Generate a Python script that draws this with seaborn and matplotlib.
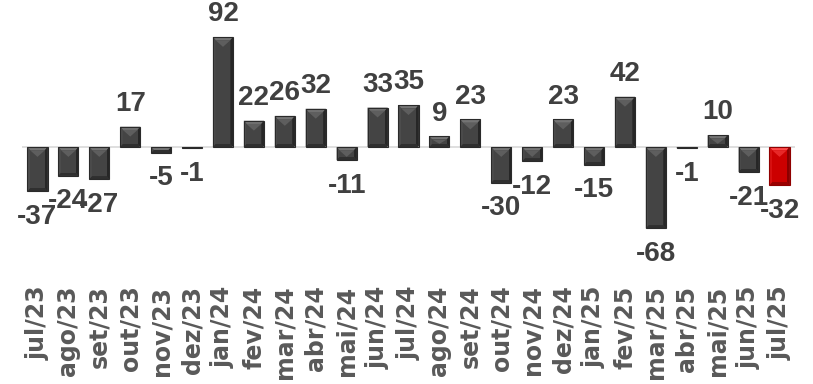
import matplotlib
matplotlib.use("Agg")
import matplotlib.pyplot as plt
from matplotlib.patches import Polygon
import seaborn as sns
import pandas as pd

months = ["jul/23", "ago/23", "set/23", "out/23", "nov/23", "dez/23",
          "jan/24", "fev/24", "mar/24", "abr/24", "mai/24", "jun/24",
          "jul/24", "ago/24", "set/24", "out/24", "nov/24", "dez/24",
          "jan/25", "fev/25", "mar/25", "abr/25", "mai/25", "jun/25", "jul/25"]
values = [-37, -24, -27, 17, -5, -1, 92, 22, 26, 32, -11, 33, 35, 9, 23,
          -30, -12, 23, -15, 42, -68, -1, 10, -21, -32]

df = pd.DataFrame({"mes": months, "valor": values})
df["destaque"] = ["atual" if m == months[-1] else "base" for m in months]

sns.set_style("white")
plt.rcParams["font.family"] = ["Liberation Sans", "DejaVu Sans"]

W, H = 813, 384
fig = plt.figure(figsize=(W / 100, H / 100), dpi=100)
ax_left, ax_right, ax_top, ax_bot = 22, 795, 0, 280
ax = fig.add_axes([ax_left / W, 1 - ax_bot / H, (ax_right - ax_left) / W, (ax_bot - ax_top) / H])

sns.barplot(data=df, x="mes", y="valor", hue="destaque",
            palette={"base": "#404040", "atual": "#c00000"},
            width=0.65, dodge=False, legend=False, ax=ax, linewidth=0)

zero_px = 147
scale = 1.196  # px per unit
ax.set_ylim(-(ax_bot - zero_px) / scale, (zero_px - ax_top) / scale)
ax.set_xlim(-0.5, len(months) - 0.5)
ax.axhline(0, color="#d9d9d9", lw=1.2, zorder=1)

# bevel facets
shades = {
    "base": dict(top="#747474", left="#4c4c4c", right="#262626", bottom="#2f2f2f", face="#444444", edge="#2a2a2a"),
    "atual": dict(top="#ff4a4a", left="#d81010", right="#8a0000", bottom="#9a0000", face="#cc0000", edge="#900000"),
}
by_unit = 3.2 / scale
for p, kind in zip(ax.patches, df["destaque"]):
    x0, w = p.get_x(), p.get_width()
    y0 = min(p.get_y(), p.get_y() + p.get_height())
    y1 = max(p.get_y(), p.get_y() + p.get_height())
    x1 = x0 + w
    h = y1 - y0
    bx = 0.13 * w
    by = min(by_unit, h / 2)
    s = shades[kind]
    ix0, ix1, iy0, iy1 = x0 + bx, x1 - bx, y0 + by, y1 - by
    facets = [
        ([(x0, y1), (x1, y1), (ix1, iy1), (ix0, iy1)], s["top"]),
        ([(x0, y0), (x1, y0), (ix1, iy0), (ix0, iy0)], s["bottom"]),
        ([(x0, y0), (x0, y1), (ix0, iy1), (ix0, iy0)], s["left"]),
        ([(x1, y0), (x1, y1), (ix1, iy1), (ix1, iy0)], s["right"]),
        ([(ix0, iy0), (ix1, iy0), (ix1, iy1), (ix0, iy1)], s["face"]),
    ]
    for pts, c in facets:
        ax.add_patch(Polygon(pts, closed=True, facecolor=c, edgecolor="none", zorder=3))
    # lighter top triangle inside the face
    if iy1 - iy0 > 0:
        th = min((ix1 - ix0) * 0.45 * 30.9 / scale, iy1 - iy0)
        ax.add_patch(Polygon([(ix0, iy1), (ix1, iy1), ((ix0 + ix1) / 2, iy1 - th)],
                             closed=True, facecolor=s["top"], alpha=0.55, edgecolor="none", zorder=3.5))
    ax.add_patch(Polygon([(x0, y0), (x1, y0), (x1, y1), (x0, y1)], closed=True,
                         facecolor="none", edgecolor=s["edge"], lw=0.8, zorder=4))

for i, v in enumerate(values):
    ax.annotate(str(v), (i, v), xytext=(0, 7 if v >= 0 else -9), textcoords="offset points",
                ha="center", va="bottom" if v >= 0 else "top",
                fontsize=20, fontweight="bold", color="#404040", zorder=5)

ax.set_xlabel("")
ax.set_ylabel("")
ax.set_yticks([])
ax.tick_params(axis="x", length=0, pad=4, labelsize=17, labelcolor="#595959", rotation=90)
for lbl in ax.get_xticklabels():
    lbl.set_family(["DejaVu Sans"])
    lbl.set_fontweight("bold")
sns.despine(ax=ax, left=True, bottom=True)

fig.savefig("out.png", dpi=100)
